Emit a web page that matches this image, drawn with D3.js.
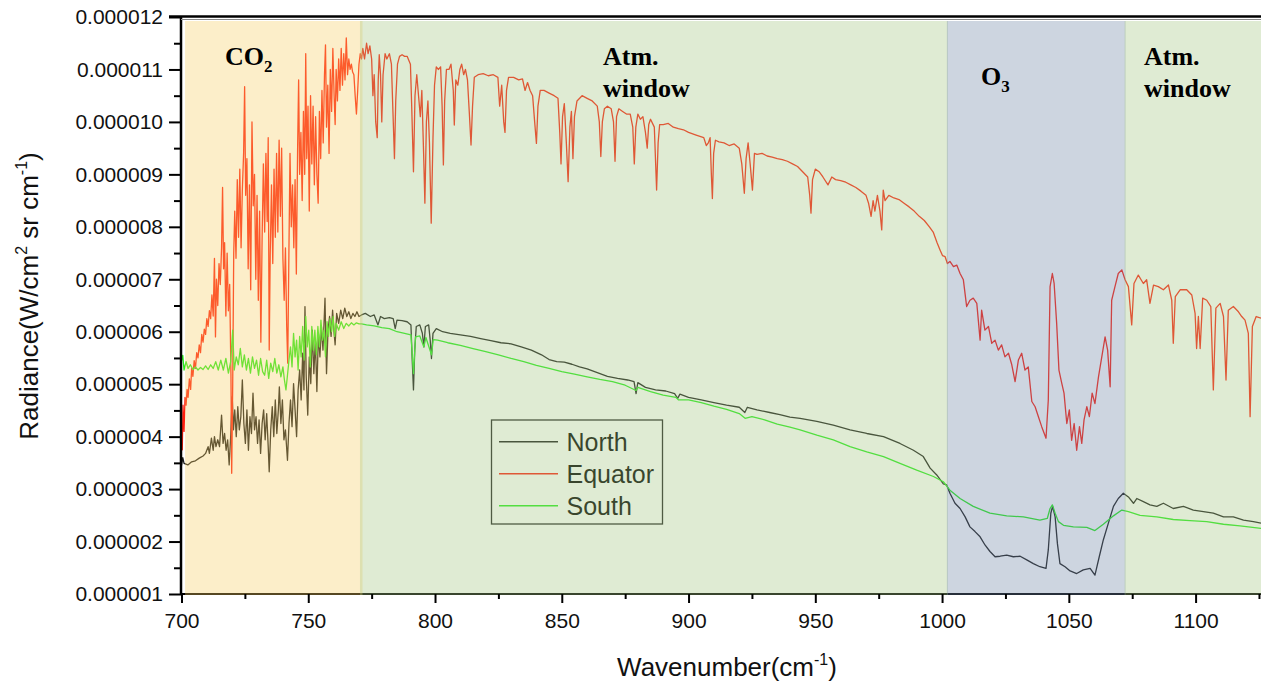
<!DOCTYPE html>
<html>
<head>
<meta charset="utf-8">
<script src="https://cdn.jsdelivr.net/npm/d3@7"></script>
<style>
  body { margin: 0; background: #fff; }
  svg { display: block; }
</style>
</head>
<body>
<svg id="chart" width="1261" height="683"></svg>
<script>
// radiance values are in units of 1e-6 W/cm2 sr cm-1, wavenumber in cm-1
var north = [
  [700.0,3.45],[700.5,3.6],[701.0,3.49],[702.5,3.46],[704.0,3.52],[705.5,3.54],[707.0,3.59],[708.5,3.63],
  [709.5,3.68],[710.5,3.81],[711.0,3.68],[711.8,3.97],[712.5,3.74],[713.0,4.0],[713.6,3.81],[714.3,3.94],
  [715.0,3.81],[715.8,4.41],[716.4,3.87],[717.0,4.06],[717.6,3.74],[718.2,3.94],[718.8,3.46],[719.4,4.0],
  [720.0,4.76],[720.5,4.13],[721.0,4.51],[721.6,4.0],[722.2,4.57],[722.8,4.13],[723.4,4.38],[724.0,5.08],
  [724.6,4.25],[725.2,3.87],[725.8,4.51],[726.4,3.74],[727.0,4.38],[727.6,4.06],[728.2,4.83],[728.8,4.13],
  [729.4,4.38],[730.0,3.87],[730.6,4.32],[731.2,3.68],[731.8,4.25],[732.4,4.51],[733.0,3.94],[733.6,4.44],
  [734.2,3.81],[734.6,3.33],[735.2,4.13],[735.8,4.57],[736.4,4.0],[737.0,4.7],[737.6,4.06],[738.2,4.51],
  [738.6,4.95],[739.2,4.25],[739.8,4.7],[740.4,3.94],[741.0,4.13],[741.8,3.55],[742.4,4.25],[743.0,4.7],
  [743.6,4.19],[744.2,5.01],[744.8,4.51],[745.4,4.0],[746.0,4.89],[746.6,5.27],[747.2,4.7],[747.8,5.59],
  [748.3,4.89],[748.7,6.48],[749.2,5.14],[749.8,4.41],[750.4,5.52],[751.0,5.01],[751.6,6.03],[752.2,5.2],
  [752.8,5.84],[753.4,4.86],[754.0,5.97],[754.6,5.52],[755.2,6.1],[755.8,5.65],[756.6,6.64],[757.2,5.2],
  [757.8,6.03],[758.4,6.29],[759.0,5.91],[759.6,6.41],[760.2,5.97],[760.6,5.75],[761.2,6.35],[762.0,6.16],
  [762.8,6.41],[763.6,6.25],[764.4,6.45],[765.2,6.29],[766.0,6.38],[766.8,6.25],[767.6,6.35],[768.4,6.29],
  [769.2,6.38],[770.0,6.29],[771.0,6.32],[772.5,6.35],[774.5,6.29],[776.0,6.32],[777.5,6.13],[778.5,6.29],
  [780.0,6.25],[782.0,6.27],[783.5,6.25],[784.3,6.06],[785.0,6.22],[787.0,6.21],[789.0,6.19],[790.5,6.13],
  [791.0,5.46],[791.5,4.89],[792.0,5.65],[792.6,6.1],[794.0,6.13],[795.0,5.97],[795.6,5.71],[796.2,6.1],
  [797.5,6.13],[798.1,5.84],[798.6,5.49],[799.2,5.97],[800.5,6.06],[803.0,6.0],[806.0,5.97],[810.0,5.94],
  [814.0,5.91],[818.0,5.87],[822.0,5.83],[826.0,5.79],[830.0,5.77],[834.0,5.71],[838.0,5.65],[842.0,5.56],
  [845.0,5.47],[848.0,5.43],[851.0,5.42],[854.0,5.38],[857.0,5.33],[860.0,5.29],[864.0,5.22],[868.0,5.15],
  [872.0,5.11],[876.0,5.08],[878.5,5.05],[879.3,4.82],[880.0,5.03],[883.0,4.94],[887.0,4.89],[891.0,4.87],
  [894.5,4.82],[895.7,4.73],[896.6,4.81],[900.0,4.75],[905.0,4.7],[910.0,4.65],[915.0,4.6],[920.0,4.56],
  [922.2,4.46],[923.2,4.56],[927.0,4.51],[932.0,4.46],[936.0,4.42],[940.0,4.37],[944.0,4.35],[950.6,4.29],
  [957.1,4.22],[963.7,4.13],[970.3,4.06],[976.9,4.0],[983.4,3.87],[988.7,3.74],[992.6,3.62],[995.3,3.4],
  [997.9,3.27],[1000.5,3.1],[1001.8,3.08],[1003.1,2.92],[1005.1,2.73],[1007.1,2.63],[1009.1,2.47],[1011.0,2.28],
  [1013.0,2.19],[1015.0,2.09],[1017.0,1.93],[1018.9,1.81],[1020.9,1.71],[1022.9,1.72],[1025.5,1.74],[1028.1,1.71],
  [1030.8,1.72],[1033.4,1.65],[1036.0,1.58],[1038.6,1.52],[1041.0,1.49],[1041.9,1.84],[1042.9,2.54],[1043.6,2.67],
  [1044.6,2.47],[1045.5,1.96],[1046.5,1.58],[1048.5,1.52],[1050.5,1.44],[1053.1,1.39],[1055.7,1.46],[1058.4,1.49],
  [1060.3,1.36],[1062.0,1.71],[1063.6,2.03],[1065.6,2.35],[1067.6,2.67],[1069.5,2.82],[1071.5,2.92],[1073.5,2.85],
  [1075.5,2.73],[1076.8,2.82],[1079.4,2.76],[1082.0,2.7],[1084.7,2.67],[1087.3,2.73],[1091.2,2.63],[1095.2,2.67],
  [1099.1,2.6],[1103.1,2.57],[1107.0,2.54],[1111.0,2.47],[1114.9,2.47],[1118.9,2.41],[1122.8,2.38],[1125.8,2.35]
];

var equator = [
  [700.0,4.2],[700.3,3.75],[700.6,4.6],[701.0,4.1],[701.4,4.75],[701.8,4.6],[702.2,4.9],[702.6,4.75],
  [703.1,5.1],[703.6,4.9],[704.0,5.3],[704.5,5.15],[705.0,5.45],[705.5,5.3],[706.0,5.6],[706.5,5.5],
  [707.0,5.75],[707.5,5.6],[708.0,5.95],[708.5,5.8],[709.0,6.05],[709.5,5.95],[710.0,6.25],[710.5,6.1],
  [711.0,6.4],[711.5,6.25],[712.0,6.7],[712.5,6.3],[713.0,7.4],[713.4,5.9],[713.8,7.0],[714.3,6.5],
  [714.8,7.3],[715.3,6.9],[715.8,7.6],[716.2,8.75],[716.6,7.2],[717.0,7.7],[717.5,6.3],[718.0,7.5],
  [718.5,6.4],[719.0,6.9],[719.5,5.2],[719.8,3.3],[720.2,5.0],[720.6,7.5],[721.0,8.3],[721.5,7.4],
  [722.0,8.9],[722.5,7.8],[723.0,9.1],[723.5,7.6],[724.0,8.7],[724.5,9.4],[724.9,10.67],[725.3,8.6],
  [725.8,9.3],[726.3,7.2],[726.8,8.8],[727.3,6.8],[727.8,10.0],[728.3,8.4],[728.8,9.0],[729.3,7.0],
  [729.8,8.6],[730.3,6.6],[730.8,8.3],[731.3,5.8],[731.8,7.8],[732.3,9.2],[732.8,7.9],[733.3,9.4],
  [733.8,8.1],[734.2,9.7],[734.6,5.65],[735.0,7.5],[735.5,8.8],[736.0,7.3],[736.5,9.1],[737.0,7.8],
  [737.5,9.4],[738.0,7.9],[738.5,9.65],[739.0,8.2],[739.5,9.5],[740.0,7.4],[740.5,6.6],[741.0,7.6],
  [741.5,6.1],[741.9,5.4],[742.3,7.2],[742.8,9.4],[743.3,8.0],[743.8,8.8],[744.3,7.6],[744.8,8.9],
  [745.3,7.1],[745.8,9.5],[746.2,10.8],[746.6,9.0],[747.1,9.8],[747.6,8.5],[748.1,10.2],[748.6,9.0],
  [749.0,11.3],[749.4,9.3],[749.9,10.3],[750.4,8.3],[750.9,10.5],[751.4,9.2],[751.9,10.3],[752.4,8.8],
  [752.9,10.1],[753.4,9.0],[753.9,8.45],[754.4,10.2],[754.9,9.3],[755.4,10.6],[755.9,9.6],[756.4,10.9],
  [756.8,11.47],[757.2,9.9],[757.7,10.7],[758.2,9.4],[758.7,11.0],[759.2,10.2],[759.7,11.4],[760.2,10.5],
  [760.6,9.95],[761.0,11.0],[761.5,10.4],[762.0,11.2],[762.5,10.6],[763.0,11.4],[763.5,10.7],[764.0,11.3],
  [764.5,10.8],[765.0,11.6],[765.5,10.9],[766.0,11.2],[766.5,11.0],[767.0,11.1],[767.5,10.95],[768.0,10.9],
  [768.5,10.5],[769.0,10.15],[769.5,10.6],[770.0,11.1],[770.5,11.3],[771.0,11.2],[771.5,11.4],[772.2,11.2],
  [773.0,11.5],[773.6,11.3],[774.3,11.45],[775.0,11.2],[775.5,10.5],[776.0,10.9],[776.6,10.0],[777.2,9.7],
  [777.6,10.8],[778.0,11.28],[778.5,10.9],[779.0,10.0],[779.5,10.9],[780.3,11.3],[781.0,11.2],[782.0,11.3],
  [782.8,11.1],[783.4,10.2],[784.0,9.3],[784.5,10.4],[785.2,11.1],[786.0,11.25],[787.0,11.28],[788.0,11.25],
  [789.0,11.25],[790.3,11.1],[790.8,10.3],[791.5,9.05],[792.1,10.5],[792.8,10.9],[793.5,10.5],[794.2,10.1],
  [794.8,10.6],[795.5,9.4],[796.0,8.45],[796.6,10.0],[797.2,10.4],[797.8,9.6],[798.5,8.07],[799.2,9.7],
  [799.8,10.7],[800.5,11.05],[801.3,11.0],[802.2,11.05],[802.8,10.3],[803.3,9.18],[803.8,10.4],[804.5,11.0],
  [805.5,11.0],[806.3,11.1],[807.2,10.6],[807.6,9.94],[808.2,10.8],[809.0,10.7],[809.8,11.0],[810.5,11.1],
  [811.3,10.9],[812.0,11.0],[812.8,10.8],[813.5,10.2],[814.2,9.56],[814.8,10.3],[815.5,10.85],[817.0,10.9],
  [819.0,10.92],[821.0,10.88],[823.0,10.9],[824.8,10.85],[825.5,10.3],[826.3,10.7],[827.1,10.0],[827.6,9.8],
  [828.2,10.6],[829.0,10.85],[831.0,10.85],[833.0,10.8],[834.5,10.82],[835.5,10.6],[836.5,10.75],[837.5,10.6],
  [838.5,10.5],[839.3,10.0],[840.0,9.59],[840.6,10.3],[841.5,10.6],[843.0,10.6],[845.0,10.55],[847.0,10.5],
  [848.5,10.45],[849.2,9.8],[849.7,9.2],[850.3,10.1],[851.0,10.35],[851.8,9.6],[852.5,8.86],[853.2,9.9],
  [853.8,10.2],[854.4,9.3],[855.0,10.1],[856.0,10.4],[858.0,10.5],[860.0,10.45],[862.0,10.4],[864.0,10.3],
  [864.8,10.0],[865.4,9.34],[866.0,10.0],[866.8,10.25],[868.0,10.3],[869.5,10.25],[870.4,10.0],[871.0,9.25],
  [871.6,10.1],[872.5,10.25],[874.0,10.2],[875.5,10.15],[877.0,10.15],[878.0,9.9],[878.6,9.2],[879.2,9.9],
  [880.0,10.15],[881.0,10.05],[882.0,10.1],[883.0,9.8],[883.7,9.5],[884.3,9.95],[885.0,10.05],[886.5,9.9],
  [887.4,8.7],[888.0,9.6],[888.6,9.95],[890.0,9.95],[892.0,9.97],[894.0,9.9],[896.0,9.87],[898.0,9.85],
  [900.0,9.8],[903.0,9.75],[906.0,9.7],[907.0,9.55],[907.8,9.6],[908.5,9.7],[909.0,9.0],[909.4,8.54],
  [909.9,9.4],[910.6,9.65],[912.0,9.62],[914.0,9.6],[916.0,9.55],[918.0,9.58],[920.0,9.5],[921.0,9.2],
  [922.0,8.64],[922.7,9.3],[923.5,9.6],[924.3,9.2],[925.2,8.7],[926.0,9.4],[927.0,9.38],[929.0,9.4],
  [931.0,9.35],[933.0,9.33],[935.0,9.3],[937.0,9.28],[939.0,9.25],[941.0,9.2],[943.0,9.15],[945.0,9.05],
  [947.0,8.95],[947.8,8.6],[948.3,8.26],[948.9,8.9],[950.0,9.1],[951.5,9.05],[953.0,8.95],[955.0,8.8],
  [956.5,8.95],[958.0,8.9],[960.0,8.88],[962.0,8.85],[964.0,8.8],[966.0,8.75],[968.0,8.68],[970.0,8.6],
  [971.0,8.45],[972.0,8.2],[972.8,8.5],[973.5,8.3],[974.5,8.6],[975.5,8.3],[976.2,7.94],[976.8,8.7],
  [977.5,8.5],[979.0,8.6],[981.0,8.55],[983.0,8.52],[985.0,8.45],[987.0,8.38],[989.0,8.3],[991.0,8.2],
  [993.0,8.12],[995.0,8.0],[996.5,7.9],[998.0,7.7],[999.2,7.56],[1000.2,7.45],[1001.2,7.43],[1002.1,7.3],
  [1003.1,7.34],[1004.5,7.24],[1005.8,7.27],[1007.1,7.11],[1008.4,6.99],[1009.7,6.48],[1011.0,6.6],[1012.3,6.64],
  [1013.7,6.54],[1015.0,5.84],[1015.6,6.41],[1016.9,6.03],[1018.3,6.1],[1019.6,5.78],[1020.9,5.84],[1022.2,5.65],
  [1023.5,5.75],[1024.8,5.52],[1026.2,5.59],[1027.5,5.37],[1028.8,5.05],[1030.1,5.46],[1031.4,5.59],[1032.7,5.27],
  [1034.0,5.33],[1035.4,4.67],[1036.7,4.57],[1038.0,4.38],[1039.3,4.19],[1041.0,3.97],[1041.9,4.7],[1042.6,6.86],
  [1043.5,7.11],[1044.2,6.92],[1045.2,6.16],[1046.1,5.27],[1047.2,5.02],[1048.1,4.83],[1049.2,4.25],[1050.2,4.51],
  [1051.1,3.93],[1052.1,4.25],[1053.1,3.74],[1054.2,4.19],[1055.1,3.87],[1056.0,4.32],[1057.1,4.57],[1058.1,4.38],
  [1059.2,4.83],[1060.3,4.63],[1061.7,5.14],[1063.0,5.52],[1064.3,5.9],[1065.3,5.65],[1066.3,4.95],[1066.9,6.6],
  [1068.2,6.86],[1069.5,7.11],[1070.9,7.18],[1072.2,6.99],[1073.5,6.86],[1074.8,6.13],[1075.7,6.92],[1077.4,7.08],
  [1079.4,6.92],[1080.7,6.99],[1082.0,6.54],[1083.4,6.89],[1085.3,6.86],[1087.3,6.8],[1089.3,6.89],[1090.6,6.6],
  [1091.2,5.78],[1092.0,6.67],[1093.9,6.8],[1096.5,6.8],[1098.5,6.7],[1099.8,6.35],[1100.4,5.68],[1101.1,6.29],
  [1101.8,5.68],[1102.8,6.64],[1104.4,6.6],[1106.0,6.48],[1107.0,4.89],[1108.0,6.45],[1109.7,6.54],[1111.0,6.29],
  [1112.0,5.08],[1112.9,6.41],[1114.9,6.48],[1116.9,6.38],[1118.2,6.29],[1119.5,6.22],[1120.8,5.97],[1121.5,4.38],
  [1122.4,6.1],[1123.9,6.29],[1125.8,6.26]
];

var south = [
  [700.0,5.45],[700.5,5.55],[701.0,5.27],[701.8,5.43],[702.6,5.3],[703.5,5.37],[704.5,5.28],[705.5,5.33],
  [706.5,5.27],[707.5,5.32],[708.5,5.28],[709.5,5.35],[710.5,5.28],[711.5,5.37],[712.5,5.3],[713.5,5.43],
  [714.5,5.27],[715.5,5.46],[716.5,5.27],[717.5,5.49],[718.5,5.21],[719.4,5.43],[720.2,6.03],[720.8,5.27],
  [721.6,5.52],[722.4,5.37],[723.2,5.68],[724.0,5.33],[724.8,5.56],[725.6,5.27],[726.4,5.49],[727.2,5.21],
  [728.0,5.52],[728.8,5.3],[729.6,5.46],[730.4,5.17],[731.2,5.49],[732.0,5.24],[732.8,5.17],[733.6,5.46],
  [734.4,5.11],[735.2,5.4],[736.0,5.24],[736.8,5.49],[737.6,5.21],[738.4,5.37],[739.2,5.14],[740.0,5.33],
  [740.6,5.08],[741.2,4.89],[741.8,5.17],[742.4,5.46],[743.0,5.71],[743.6,5.33],[744.2,5.97],[744.8,5.52],
  [745.4,5.84],[746.0,5.27],[746.6,5.91],[747.2,5.52],[747.8,6.1],[748.4,5.46],[749.0,6.29],[749.6,5.71],
  [750.2,6.03],[750.8,5.33],[751.4,6.1],[752.0,5.65],[752.6,6.03],[753.2,5.56],[753.8,6.1],[754.4,5.71],
  [755.0,6.22],[755.6,5.84],[756.2,6.03],[756.8,5.52],[757.4,6.19],[758.0,5.91],[758.6,6.25],[759.2,6.0],
  [759.8,6.29],[760.4,5.91],[761.0,6.16],[762.0,6.03],[763.0,6.19],[764.0,6.06],[765.0,6.16],[766.0,6.11],
  [767.0,6.17],[768.0,6.13],[769.0,6.17],[770.0,6.15],[771.0,6.15],[773.0,6.13],[776.0,6.11],[779.0,6.08],
  [782.0,6.06],[785.0,6.0],[788.0,5.97],[790.5,5.94],[791.5,5.2],[792.3,5.9],[794.0,5.92],[795.6,5.71],
  [796.4,5.89],[798.6,5.56],[799.3,5.85],[801.0,5.84],[805.0,5.79],[810.0,5.74],[815.0,5.68],[820.0,5.62],
  [825.0,5.56],[830.0,5.49],[835.0,5.43],[840.0,5.36],[845.0,5.3],[850.0,5.24],[855.0,5.19],[860.0,5.14],
  [865.0,5.09],[870.0,5.05],[875.0,4.98],[879.3,4.88],[880.0,4.94],[885.0,4.86],[890.0,4.79],[895.0,4.75],
  [896.0,4.7],[900.0,4.7],[905.0,4.65],[910.0,4.58],[915.0,4.52],[920.0,4.44],[922.3,4.35],[925.0,4.38],
  [930.0,4.32],[935.0,4.24],[940.0,4.18],[944.0,4.13],[950.6,4.03],[957.1,3.94],[963.7,3.81],[970.3,3.71],
  [976.9,3.62],[983.4,3.49],[990.0,3.36],[996.6,3.24],[1000.5,3.14],[1003.1,2.98],[1007.1,2.82],[1012.3,2.67],
  [1018.9,2.54],[1025.5,2.49],[1032.1,2.47],[1038.6,2.41],[1041.5,2.44],[1042.6,2.63],[1043.5,2.7],[1044.6,2.54],
  [1045.9,2.38],[1047.9,2.31],[1051.8,2.28],[1057.1,2.27],[1060.3,2.21],[1063.6,2.33],[1067.6,2.49],[1070.9,2.6],
  [1073.5,2.57],[1078.1,2.5],[1084.7,2.47],[1091.2,2.42],[1097.8,2.4],[1104.4,2.38],[1111.0,2.33],[1117.5,2.3],
  [1125.8,2.25]
];

var xTicks = [700, 750, 800, 850, 900, 950, 1000, 1050, 1100];
var xMinor = [725, 775, 825, 875, 925, 975, 1025, 1075, 1125];
var yTicks = [1, 2, 3, 4, 5, 6, 7, 8, 9, 10, 11, 12];
var yMinor = [1.5, 2.5, 3.5, 4.5, 5.5, 6.5, 7.5, 8.5, 9.5, 10.5, 11.5];

// spectral bands shaded behind the text labels
var bands = [
  { key: 'co2', lo: 701.4, hi: 771.4 },
  { key: 'win', lo: 770.4, hi: 1002.3 },
  { key: 'o3', lo: 1001.9, hi: 1072.4 },
  { key: 'win', lo: 1072.0, hi: 1127 }
];

var bandColors = { co2: '#f6ce64', win: '#a3c581', o3: '#6f86a6' };

var seriesList = [
  { name: 'North', data: north, color: '#1a1a1a' },
  { name: 'Equator', data: equator, color: '#ff1e0e' },
  { name: 'South', data: south, color: '#28ec1e' }
];

var svg = d3.select('#chart');
var sans = '"Liberation Sans", Arial, sans-serif';
var serif = '"Liberation Serif", "Times New Roman", serif';

var x = d3.scaleLinear().domain([700, 1125.8]).range([181.5, 1261]);
var y = d3.scaleLinear().domain([1, 12]).range([594, 17]);

svg.append('defs').append('clipPath')
    .attr('id', 'plotClip')
  .append('rect')
    .attr('x', 181)
    .attr('y', 17)
    .attr('width', 1080)
    .attr('height', 578);

var line = d3.line()
    .x(function(d) { return x(d[0]); })
    .y(function(d) { return y(d[1]); });

var plot = svg.append('g').attr('clip-path', 'url(#plotClip)');

seriesList.forEach(function(s) {
    plot.append('path')
        .datum(s.data)
        .attr('fill', 'none')
        .attr('stroke', s.color)
        .attr('stroke-width', 1.3)
        .attr('stroke-linejoin', 'round')
        .attr('d', line);
});

// legend sits under the band overlays, like in the original
var legend = svg.append('g').attr('transform', 'translate(491.5,420)');
legend.append('rect')
    .attr('width', 171)
    .attr('height', 104)
    .attr('fill', '#fff')
    .attr('stroke', '#222')
    .attr('stroke-width', 1.3);

seriesList.forEach(function(s, i) {
    var ry = 21.7 + i * 32;
    legend.append('line')
        .attr('x1', 7.5).attr('x2', 66.5)
        .attr('y1', ry).attr('y2', ry)
        .attr('stroke', s.color)
        .attr('stroke-width', 1.5);
    legend.append('text')
        .attr('x', 75)
        .attr('y', ry)
        .attr('dy', '0.36em')
        .attr('font-family', sans)
        .attr('font-size', 25)
        .attr('fill', '#000')
        .text(s.name);
});

svg.append('line')
    .attr('x1', 181).attr('x2', 1261)
    .attr('y1', 594).attr('y2', 594)
    .attr('stroke', '#000')
    .attr('stroke-width', 2);

// translucent band overlays
svg.append('g')
    .selectAll('rect')
    .data(bands)
    .enter().append('rect')
    .attr('x', function(d) { return x(d.lo); })
    .attr('y', y(12) + 4)
    .attr('width', function(d) { return x(d.hi) - x(d.lo); })
    .attr('height', y(1) - y(12) - 3)
    .attr('fill', function(d) { return bandColors[d.key]; })
    .attr('fill-opacity', 0.35);

function styleAxis(g) {
    g.select('.domain').remove();
    g.selectAll('.tick line').attr('stroke', '#000').attr('stroke-width', 2);
    g.selectAll('.tick text')
        .attr('font-family', sans)
        .attr('font-size', 21)
        .attr('fill', '#111');
}

svg.append('g')
    .attr('transform', 'translate(181,0)')
    .call(d3.axisLeft(y).tickValues(yTicks).tickSize(12).tickPadding(6)
        .tickFormat(function(d) { return (d * 1e-6).toFixed(6); }))
    .call(styleAxis);

svg.append('g')
    .attr('transform', 'translate(181,0)')
    .call(d3.axisLeft(y).tickValues(yMinor).tickSize(7).tickFormat(''))
    .call(styleAxis);

svg.append('g')
    .attr('transform', 'translate(0,594)')
    .call(d3.axisBottom(x).tickValues(xTicks).tickSize(9).tickPadding(10)
        .tickFormat(d3.format('d')))
    .call(styleAxis);

svg.append('g')
    .attr('transform', 'translate(0,594)')
    .call(d3.axisBottom(x).tickValues(xMinor).tickSize(5).tickFormat(''))
    .call(styleAxis);

svg.append('line')
    .attr('x1', 181).attr('x2', 181)
    .attr('y1', 16).attr('y2', 595)
    .attr('stroke', '#000')
    .attr('stroke-width', 2.5);

svg.append('line')
    .attr('x1', 169).attr('x2', 1261)
    .attr('y1', 16.5).attr('y2', 16.5)
    .attr('stroke', '#000')
    .attr('stroke-width', 2.5);

svg.append('line')
    .attr('x1', 181).attr('x2', 1261)
    .attr('y1', 19.5).attr('y2', 19.5)
    .attr('stroke', '#888')
    .attr('stroke-width', 1);

// band labels
function bandLabel(tx, ty, main, sub) {
    var t = svg.append('text')
        .attr('x', tx)
        .attr('y', ty)
        .attr('font-family', serif)
        .attr('font-weight', 'bold')
        .attr('font-size', 26)
        .attr('fill', '#000')
        .text(main);
    if (sub) {
        t.append('tspan')
            .attr('dy', 7)
            .attr('font-size', 17)
            .text(sub);
    }
    return t;
}

bandLabel(225, 65, 'CO', '2');
bandLabel(603, 65, 'Atm.');
bandLabel(603, 97, 'window');
bandLabel(981, 85, 'O', '3');
bandLabel(1144, 65, 'Atm.');
bandLabel(1144, 97, 'window');

// axis titles
var xt = svg.append('text')
    .attr('x', 727)
    .attr('y', 676)
    .attr('text-anchor', 'middle')
    .attr('font-family', sans)
    .attr('font-size', 26)
    .attr('fill', '#111')
    .text('Wavenumber(cm');
xt.append('tspan').attr('dy', -11).attr('font-size', 16).text('-1');
xt.append('tspan').attr('dy', 11).text(')');

var yt = svg.append('text')
    .attr('transform', 'translate(38,296) rotate(-90)')
    .attr('text-anchor', 'middle')
    .attr('font-family', sans)
    .attr('font-size', 26)
    .attr('fill', '#111')
    .text('Radiance(W/cm');
yt.append('tspan').attr('dy', -11).attr('font-size', 16).text('2');
yt.append('tspan').attr('dy', 11).text(' sr cm');
yt.append('tspan').attr('dy', -11).attr('font-size', 16).text('-1');
yt.append('tspan').attr('dy', 11).text(')');
</script>
</body>
</html>
